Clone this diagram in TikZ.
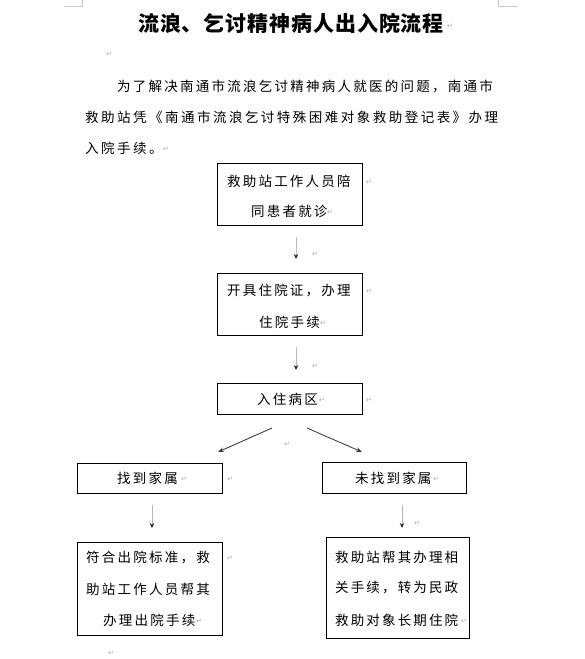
\documentclass[tikz,border=0pt]{standalone}
\usepackage{fontspec}
\newfontfamily\cjk{Noto Sans CJK SC}
\newfontfamily\symf{DejaVu Sans}
\usetikzlibrary{arrows.meta}
\makeatletter
\newcommand\pitched[2]{\@tfor\pch:=#2\do{\makebox[#1][l]{\pch}}}
\makeatother
\begin{document}
\begin{tikzpicture}[x=1pt,y=-1pt,
  boxn/.style={draw, line width=0.8pt, inner sep=0},
  txt/.style={anchor=west, inner sep=0, font=\cjk\fontsize{13.5}{14}\selectfont},
  ttl/.style={anchor=west, inner sep=0, font=\cjk\bfseries\fontsize{21}{22}\selectfont},
  pm/.style={anchor=west, inner sep=0, text=gray!65, font=\symf\fontsize{7}{8}\selectfont},
  varrow/.style={draw=gray!55, line width=1pt, -{Stealth[length=5pt,width=4.5pt,color=black!85]}},
  darrow/.style={draw=black!80, line width=0.8pt, -{Stealth[length=6pt,width=4.5pt]}},
  corner/.style={draw=gray!45, line width=0.6pt}]
\useasboundingbox (0,0) rectangle (585,659);
\fill[white] (0,0) rectangle (585,659);
% corner marks
\coordinate (cl1) at (64,6); \coordinate (cl2) at (82,6); \coordinate (cl3) at (82,0);
\coordinate (cr1) at (498,0); \coordinate (cr2) at (498,6); \coordinate (cr3) at (518,6);
\draw[corner] (cl1) -- (cl2) -- (cl3);
\draw[corner] (cr1) -- (cr2) -- (cr3);
% title
\node[ttl] (title) at (138,23) {\pitched{21.9pt}{流浪、乞讨精神病人出入院流程}};
\node[pm] (pm0) at (447,26) {↵};
\node[pm] (pm1) at (106,54) {↵};
% paragraph
\node[txt] (p1) at (117,86) {\pitched{15.75pt}{为了解决南通市流浪乞讨精神病人就医的问题，南通市}};
\node[txt] (p2) at (85,117) {\pitched{15.98pt}{救助站凭《南通市流浪乞讨特殊困难对象救助登记表》办理}};
\node[txt] (p3) at (85,148) {\pitched{16pt}{入院手续。}};
\node[pm] (pm2) at (163,149) {↵};
% boxes
\node[boxn, minimum width=145pt, minimum height=62pt] (b1) at (289.5,194) {};
\node[boxn, minimum width=145pt, minimum height=62pt] (b2) at (289.5,304) {};
\node[boxn, minimum width=145pt, minimum height=31pt] (b3) at (289.5,398.5) {};
\node[boxn, minimum width=145pt, minimum height=30pt] (b4) at (149.5,478) {};
\node[boxn, minimum width=145pt, minimum height=93pt] (b5) at (149.5,588.5) {};
\node[boxn, minimum width=144pt, minimum height=31pt] (b6) at (394,477.5) {};
\node[boxn, minimum width=143pt, minimum height=101pt] (b7) at (397.5,587.5) {};
% box texts
\node[txt] (t1a) at (227,181) {\pitched{15.7pt}{救助站工作人员陪}};
\node[txt] (t1b) at (251,211) {\pitched{15.7pt}{同患者就诊}};
\node[pm] at (366,182) {↵};
\node[pm] at (327,212) {↵};
\node[txt] (t2a) at (227,290) {\pitched{15.7pt}{开具住院证，办理}};
\node[txt] (t2b) at (259,322) {\pitched{15.7pt}{住院手续}};
\node[pm] at (366,291) {↵};
\node[pm] at (320,323) {↵};
\node[txt] (t3) at (257,399) {\pitched{15.7pt}{入住病区}};
\node[pm] at (319,400) {↵};
\node[pm] at (366,400) {↵};
\node[txt] (t4) at (117,478) {\pitched{15.7pt}{找到家属}};
\node[pm] at (181,479) {↵};
\node[pm] at (227,479) {↵};
\node[txt] (t6) at (355,478) {\pitched{15.7pt}{未找到家属}};
\node[pm] at (433,479) {↵};
\node[txt] (t5a) at (86,557) {\pitched{15.75pt}{符合出院标准，救}};
\node[txt] (t5b) at (86,589) {\pitched{15.75pt}{助站工作人员帮其}};
\node[txt] (t5c) at (103,620) {\pitched{15.75pt}{办理出院手续}};
\node[pm] at (227,558) {↵};
\node[pm] at (196,621) {↵};
\node[pm] at (108,653) {↵};
\node[txt] (t7a) at (335,557) {\pitched{15.65pt}{救助站帮其办理相}};
\node[txt] (t7b) at (335,588) {\pitched{15.65pt}{关手续，转为民政}};
\node[txt] (t7c) at (335,620) {\pitched{15.65pt}{救助对象长期住院}};
\node[pm] at (461,621) {↵};
% arrows
\coordinate (a1s) at (296,237); \coordinate (a1e) at (296,259);
\coordinate (a2s) at (296,347); \coordinate (a2e) at (296,370);
\coordinate (a3s) at (272,428); \coordinate (a3e) at (218,452);
\coordinate (a4s) at (307,428); \coordinate (a4e) at (362,452);
\coordinate (a5s) at (152,505); \coordinate (a5e) at (152,528);
\coordinate (a6s) at (402,505); \coordinate (a6e) at (402,528);
\draw[varrow] (a1s) -- (a1e);
\draw[varrow] (a2s) -- (a2e);
\draw[darrow] (a3s) -- (a3e);
\draw[darrow] (a4s) -- (a4e);
\draw[varrow] (a5s) -- (a5e);
\draw[varrow] (a6s) -- (a6e);
\node[pm] at (312,254) {↵};
\node[pm] at (312,366) {↵};
\node[pm] at (284,444) {↵};
\node[pm] at (414,523) {↵};
\end{tikzpicture}
\end{document}
